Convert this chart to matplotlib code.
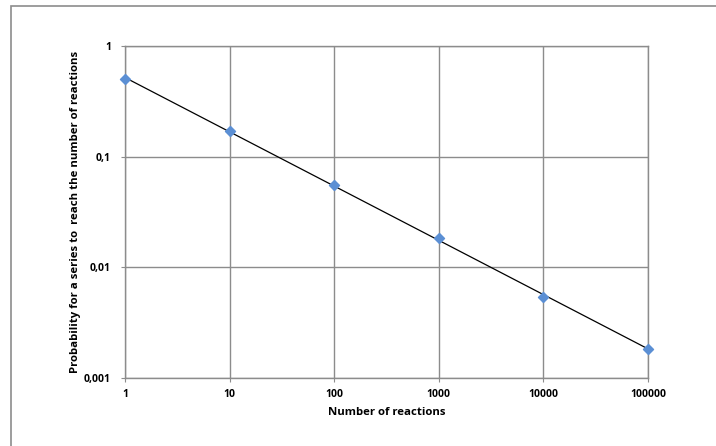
import matplotlib.pyplot as plt
import numpy as np
from matplotlib.patches import Rectangle
from matplotlib.ticker import FixedLocator, FixedFormatter, NullLocator

# values
reactions = [1, 10, 100, 1000, 10000, 100000]
probability = [0.50, 0.172, 0.055, 0.0183, 0.00543, 0.00183]

x_ticks = [1, 10, 100, 1000, 10000, 100000]
x_labels = ['1', '10', '100', '1000', '10000', '100000']
y_ticks = [0.001, 0.01, 0.1, 1]
y_labels = ['0,001', '0,01', '0,1', '1']

plt.rcParams['font.family'] = ['Open Sans', 'DejaVu Sans']

fig = plt.figure(figsize=(7.16, 4.46), dpi=100)
W, H = 716, 446

# outer chart frame
fig.patches.append(Rectangle((11 / W, -0.1), 1.2, 1 - 6 / H + 0.1, transform=fig.transFigure,
                             fill=False, edgecolor='#8c8c8c', linewidth=1.2))

ax = fig.add_axes([125 / W, 1 - 378 / H, (648 - 125) / W, (378 - 46) / H])
ax.set_xscale('log')
ax.set_yscale('log')
ax.set_xlim(1, 100000)
ax.set_ylim(0.001, 1)

ax.grid(True, color='#8c8c8c', linewidth=1.0)
ax.set_axisbelow(True)
for side in ax.spines.values():
    side.set_color('#8c8c8c')
    side.set_linewidth(1.0)

ax.xaxis.set_major_locator(FixedLocator(x_ticks))
ax.xaxis.set_major_formatter(FixedFormatter(x_labels))
ax.xaxis.set_minor_locator(NullLocator())
ax.yaxis.set_major_locator(FixedLocator(y_ticks))
ax.yaxis.set_major_formatter(FixedFormatter(y_labels))
ax.yaxis.set_minor_locator(NullLocator())
ax.tick_params(axis='both', length=3, color='#8c8c8c', labelsize=7.5)
ax.tick_params(axis='y', pad=7)
ax.tick_params(axis='x', pad=5)
for lab in ax.get_xticklabels() + ax.get_yticklabels():
    lab.set_fontweight('bold')

# power trend line fitted to the points
k, b = np.polyfit(np.log10(reactions), np.log10(probability), 1)
xs = np.array([reactions[0], reactions[-1]])
ax.plot(xs, 10 ** (b + k * np.log10(xs)), color='black', linewidth=0.9, zorder=3)

ax.scatter(reactions, probability, marker='D', s=26, color='#5b8fd4', zorder=4, clip_on=False)

ax.set_xlabel('Number of reactions', fontsize=8.2, fontweight='bold', labelpad=5)
ax.set_ylabel('Probability for a series to  reach the number of reactions', fontsize=8.2,
              fontweight='bold')
ax.yaxis.set_label_coords(-0.084, 0.5)

fig.savefig('out.png', dpi=100)
